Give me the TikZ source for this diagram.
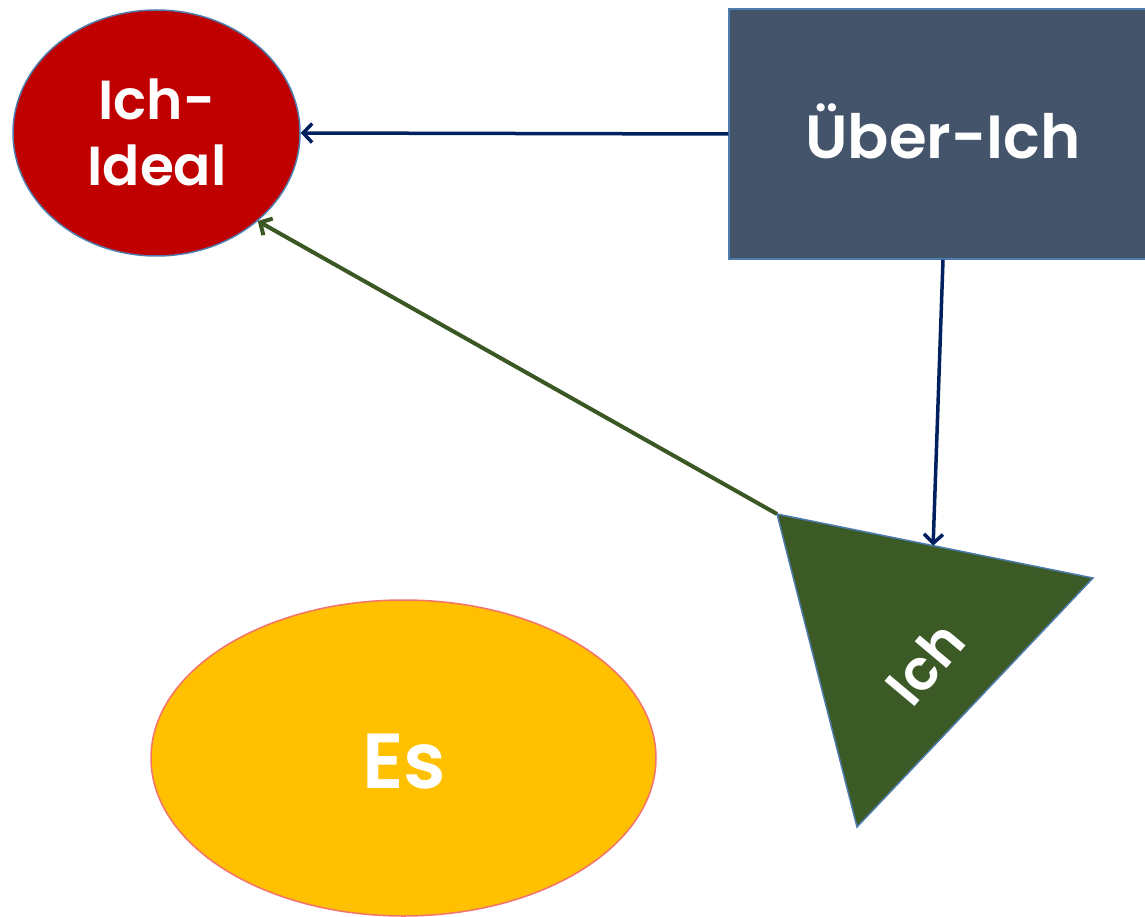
\documentclass[tikz,border=0pt]{standalone}
\usepackage{fontspec}
\setmainfont{Poppins}
\newfontfamily\popsemi{Poppins SemiBold}
\usetikzlibrary{shapes.geometric,arrows.meta,calc}
\definecolor{idealred}{HTML}{C00000}
\definecolor{uberblue}{HTML}{44546A}
\definecolor{ichgreen}{HTML}{3C5A25}
\definecolor{esyellow}{HTML}{FFC000}
\definecolor{esrim}{HTML}{F4736F}
\definecolor{rimblue}{HTML}{4F7CAE}
\definecolor{navy}{HTML}{002060}
\definecolor{arrgreen}{HTML}{3B5723}
\tikzset{
  lbl/.style={text=white, inner sep=0pt},
  navyarrow/.style={draw=navy, line width=3.5pt, -{Straight Barb[length=9pt,width=19pt,line width=3.5pt]}},
  greenarrow/.style={draw=arrgreen, line width=4pt, -{Straight Barb[length=9pt,width=19pt,line width=4pt]}}
}
\begin{document}
\begin{tikzpicture}[x=1pt,y=-1pt]
\useasboundingbox (0,0) rectangle (1145,917);
\clip (0,0) rectangle (1145,917);
% Ich-Ideal
\node[ellipse, fill=idealred, draw=rimblue, line width=1.5pt, minimum width=287pt, minimum height=246pt, inner sep=0pt] (ideal) at (156.5,133) {};
\node[lbl, align=center, font=\popsemi\fontsize{55}{66}\selectfont] (idealtxt) at (157,132) {Ich-\\Ideal};
% Über-Ich
\node[rectangle, fill=uberblue, draw=rimblue, line width=1.5pt, minimum width=428pt, minimum height=250pt, inner sep=0pt] (uber) at (943,134) {};
\node[lbl, font=\popsemi\fontsize{61}{70}\selectfont] (ubertxt) at (943,131) {Über-Ich};
% Ich triangle
\coordinate (t1) at (777,514);
\coordinate (t2) at (1093,578);
\coordinate (t3) at (857,827);
\fill[ichgreen] (t1) -- (t2) -- (t3) -- cycle;
\draw[rimblue, line width=1.5pt, line join=miter] (t1) -- (t2) -- (t3) -- cycle;
\node[lbl, rotate=50, font=\popsemi\fontsize{56}{60}\selectfont] (ichtxt) at (925,663) {Ich};
\coordinate (ichtop) at ($(t1)!0.494!(t2)$);
% Es
\node[ellipse, fill=esyellow, draw=esrim, line width=1.5pt, minimum width=505pt, minimum height=316pt, inner sep=0pt] (es) at (403.5,758) {};
\node[lbl, font=\popsemi\fontsize{78}{84}\selectfont] (estxt) at (404,762) {Es};
% connectors
\draw[navyarrow] (uber.west) -- (ideal.east);
\draw[navyarrow] (uber.south) -- (ichtop);
\draw[greenarrow] (t1) -- (ideal.-41);
\end{tikzpicture}
\end{document}
